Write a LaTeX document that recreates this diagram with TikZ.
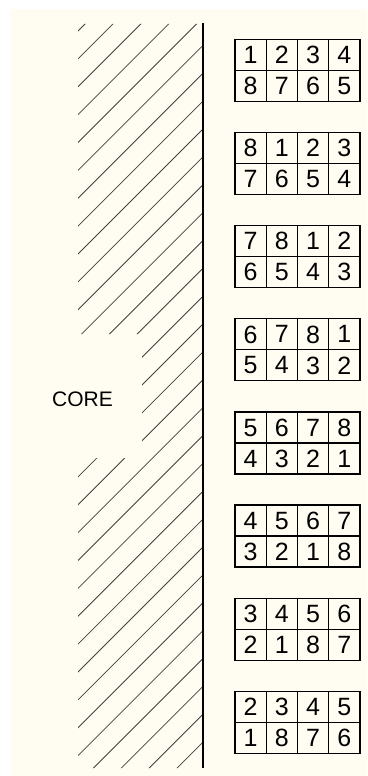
\documentclass[tikz,border=0pt]{standalone}
\usepackage{fontspec}
\setmainfont{Liberation Sans}
\usetikzlibrary{positioning,calc}
\definecolor{paper}{RGB}{255,253,242}
\tikzset{
  % Table cell: square box holding one digit
  cellbox/.style={draw, rectangle, minimum width=31.25pt, minimum height=31pt,
                  inner sep=0pt, line width=1.2pt, text depth=0pt,
                  font=\fontsize{25}{25}\selectfont},
  % Hatch line of the core region
  hatch/.style={line width=0.8pt, black!75},
  % Core boundary
  wall/.style={line width=1.8pt},
  corelabel/.style={anchor=east, inner sep=0pt, font=\fontsize{21}{21}\selectfont}
}

\begin{document}
\begin{tikzpicture}[x=1pt, y=-1pt]
\useasboundingbox (0,0) rectangle (367,776);
\fill[paper] (10,9) rectangle (367,776);

% Hatched core, cut back round the label
\begin{scope}
  \clip (78,24) -- (203,24) -- (203,768) -- (78,768) -- (78,458)
        -- (142,458) -- (142,334) -- (78,334) -- cycle;
  \foreach \k in {0,...,30} {
    \pgfmathsetmacro\c{109+27.87*\k}
    \draw[hatch] (0,\c) -- (\c,0);
  }
\end{scope}

% Core wall
\coordinate (walltop) at (203,23);
\coordinate (wallbot) at (203,768);
\draw[wall] (walltop) -- (wallbot);

\node[corelabel] (core) at (113,399) {CORE};

% Eight 4x2 tables, each shifted by one step
\foreach \i in {0,...,7} {
  \foreach \j in {0,...,3} {
    \pgfmathtruncatemacro\up{mod(\j-\i+8,8)+1}
    \pgfmathtruncatemacro\dn{mod(15-\j-\i,8)+1}
    \node[cellbox] (t\i u\j) at ({250.6+31.25*\j},{55+93.1*\i}) {\up};
    \node[cellbox] (t\i d\j) at ({250.6+31.25*\j},{86+93.1*\i}) {\dn};
  }
}

\end{tikzpicture}
\end{document}
